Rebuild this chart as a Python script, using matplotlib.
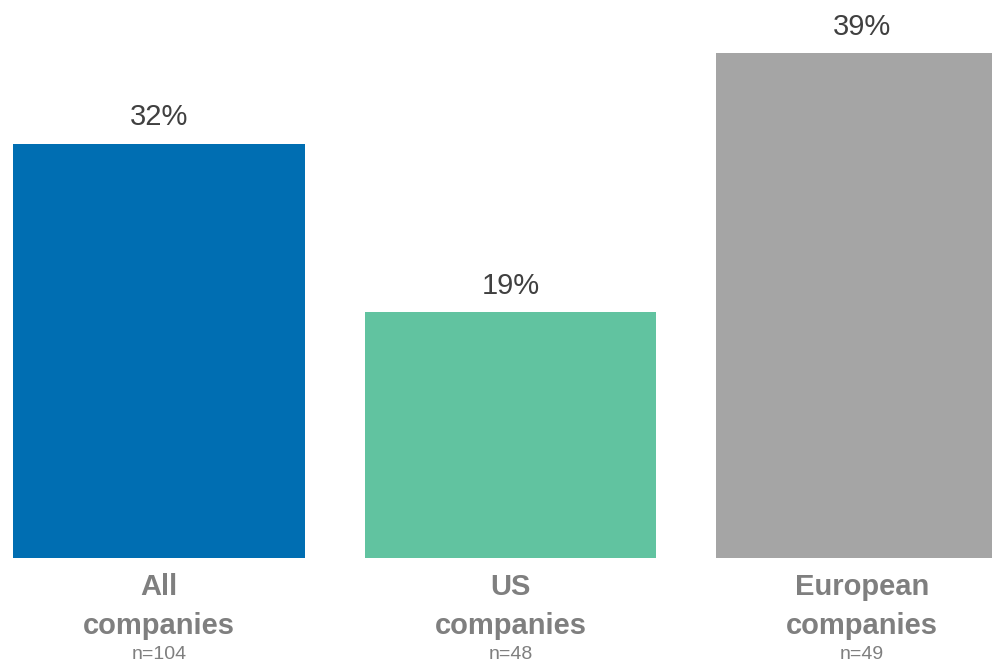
import matplotlib.pyplot as plt

plt.rcParams['font.family'] = ['Liberation Sans', 'DejaVu Sans']

categories = ["All\ncompanies", "US\ncompanies", "European\ncompanies"]
sample_sizes = ["n=104", "n=48", "n=49"]
values = [32, 19, 39]
colors = ["#006EB2", "#61C3A0", "#A5A5A5"]

fig = plt.figure(figsize=(9.92, 6.64), dpi=100)
ax = fig.add_axes([0, 106 / 664, 1, 558 / 664])

x = list(range(len(values)))
bars = ax.bar(x, values, width=0.83, color=colors)

ax.set_xlim(-0.452, 2.370)
ax.set_ylim(0, 43.1)
ax.axis("off")

for xi, v in zip(x, values):
    ax.annotate(f"{v}%", (xi, v), xytext=(0, 9), textcoords="offset points",
                ha="center", va="bottom", fontsize=21, color="#404040")

for xi, cat, n in zip(x, categories, sample_sizes):
    ax.annotate(cat, (xi, 0), xytext=(0, -11), textcoords="offset points",
                ha="center", va="top", fontsize=21, fontweight="bold",
                color="#7F7F7F", linespacing=1.5)
    ax.annotate(n, (xi, 0), xytext=(0, -73), textcoords="offset points",
                ha="center", va="baseline", fontsize=14, color="#7F7F7F")

fig.savefig("out.png", dpi=100)
